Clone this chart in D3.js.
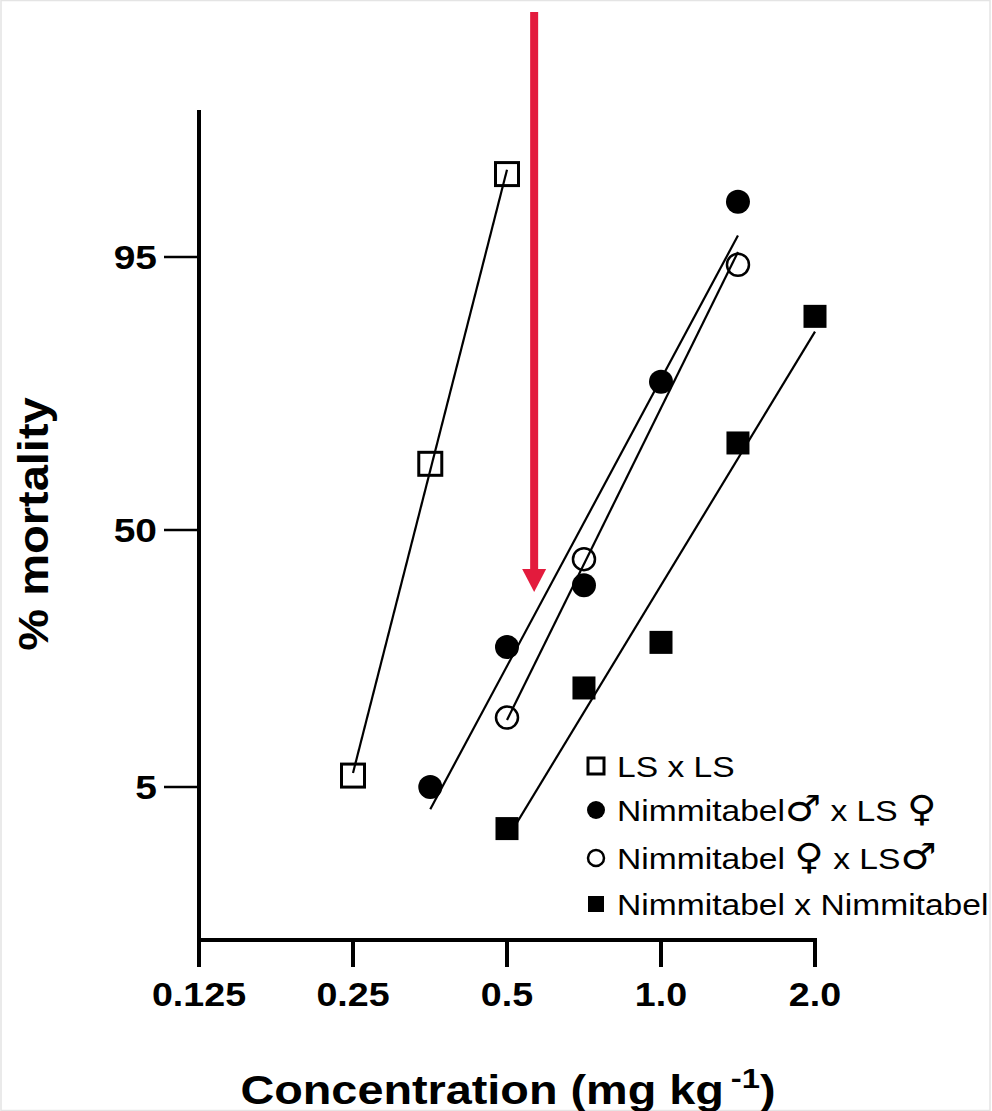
<!DOCTYPE html>
<html>
<head>
<meta charset="utf-8">
<script src="https://d3js.org/d3.v7.min.js"></script>
<style>
body { margin: 0; background: white; }
svg text { font-family: 'Liberation Sans', Arial, sans-serif; fill: black; }
</style>
</head>
<body>
<svg id="chart" width="992" height="1111"></svg>
<script>
// x axis: concentration (mg/kg) on a log2 scale
const concTicks = [0.125, 0.25, 0.5, 1.0, 2.0]
const concTickLabels = ['0.125', '0.25', '0.5', '1.0', '2.0']
// y axis: % mortality on a probit scale
const mortTicks = [5, 50, 95]
const mortTickLabels = ['5', '50', '95']

const seriesNames = ['LS x LS', 'Nimmitabel♂ x LS ♀', 'Nimmitabel ♀ x LS♂', 'Nimmitabel x Nimmitabel']
const seriesShapes = ['openSquare', 'filledCircle', 'openCircle', 'filledSquare']

// observed points
const lsConc = [0.25, 0.354, 0.5]
const lsMort = [5.8, 65.5, 98.4]
const nmLsConc = [0.354, 0.5, 0.707, 1.0, 1.414]
const nmLsMort = [5.0, 22.7, 36.2, 81.4, 97.6]
const nfLsConc = [0.5, 0.707, 1.414]
const nfLsMort = [11.5, 42.6, 94.5]
const nnConc = [0.5, 0.707, 1.0, 1.414, 2.0]
const nnMort = [2.8, 15.6, 23.6, 70.0, 90.1]

// fitted probit lines (end points)
const lsFitConc = [0.25, 0.5]
const lsFitMort = [6.0, 98.5]
const nmLsFitConc = [0.354, 1.414]
const nmLsFitMort = [3.7, 96.2]
const nfLsFitConc = [0.5, 1.414]
const nfLsFitMort = [11.2, 95.3]
const nnFitConc = [0.5, 2.0]
const nnFitMort = [2.4, 88.4]

// red arrow marks this concentration
const arrowConc = 0.565
const arrowTipMort = 34.6

const seriesConc = [lsConc, nmLsConc, nfLsConc, nnConc]
const seriesMort = [lsMort, nmLsMort, nfLsMort, nnMort]
const fitConc = [lsFitConc, nmLsFitConc, nfLsFitConc, nnFitConc]
const fitMort = [lsFitMort, nmLsFitMort, nfLsFitMort, nnFitMort]

// inverse normal cdf (Acklam)
function probit(p) {
  const a = [-3.969683028665376e+01, 2.209460984245205e+02, -2.759285104469687e+02, 1.383577518672690e+02, -3.066479806614716e+01, 2.506628277459239e+00]
  const b = [-5.447609879822406e+01, 1.615858368580409e+02, -1.556989798598866e+02, 6.680131188771972e+01, -1.328068155288572e+01]
  const c = [-7.784894002430293e-03, -3.223964580411365e-01, -2.400758277161838e+00, -2.549732539343734e+00, 4.374664141464968e+00, 2.938163982698783e+00]
  const d = [7.784695709041462e-03, 3.224671290700398e-01, 2.445134137142996e+00, 3.754408661907416e+00]
  const pl = 0.02425
  let q, r
  if (p < pl) {
    q = Math.sqrt(-2 * Math.log(p))
    return (((((c[0]*q+c[1])*q+c[2])*q+c[3])*q+c[4])*q+c[5]) / ((((d[0]*q+d[1])*q+d[2])*q+d[3])*q+1)
  } else if (p <= 1 - pl) {
    q = p - 0.5; r = q * q
    return (((((a[0]*r+a[1])*r+a[2])*r+a[3])*r+a[4])*r+a[5])*q / (((((b[0]*r+b[1])*r+b[2])*r+b[3])*r+b[4])*r+1)
  }
  q = Math.sqrt(-2 * Math.log(1 - p))
  return -(((((c[0]*q+c[1])*q+c[2])*q+c[3])*q+c[4])*q+c[5]) / ((((d[0]*q+d[1])*q+d[2])*q+d[3])*q+1)
}

const svg = d3.select('#chart')
const plotLeft = 199, plotRight = 815, plotTop = 110, plotBottom = 940

const x = d3.scaleLog().base(2).domain([0.125, 2]).range([plotLeft, plotRight])
const yProbit = d3.scaleLinear().domain([probit(0.05), 0, probit(0.95)]).range([787, 530, 257])
const y = m => yProbit(probit(m / 100))

// text stretched horizontally to match the wide original lettering
function wideText(px, py, str, size, sx, anchor, weight, rot) {
  const g = svg.append('g')
    .attr('transform', `translate(${px},${py})` + (rot ? ` rotate(${rot})` : '') + ` scale(${sx},1)`)
  return g.append('text')
    .attr('text-anchor', anchor)
    .style('font-size', size + 'px')
    .style('font-weight', weight)
    .text(str)
}

// light frame
svg.append('rect').attr('x', 1).attr('y', 0.5).attr('width', 989).attr('height', 1110)
  .attr('fill', 'none').attr('stroke', '#e4e4e4').attr('stroke-width', 1.5)

// axes
svg.append('line').attr('x1', plotLeft).attr('x2', plotLeft).attr('y1', plotTop).attr('y2', plotBottom + 2)
  .attr('stroke', 'black').attr('stroke-width', 4)
svg.append('line').attr('x1', plotLeft - 2).attr('x2', plotRight + 2).attr('y1', plotBottom).attr('y2', plotBottom)
  .attr('stroke', 'black').attr('stroke-width', 4)

concTicks.forEach((c, i) => {
  svg.append('line').attr('x1', x(c)).attr('x2', x(c)).attr('y1', plotBottom).attr('y2', plotBottom + 27)
    .attr('stroke', 'black').attr('stroke-width', 4)
  wideText(x(c), 1006, concTickLabels[i], 33, 1.14, 'middle', 'bold')
})
mortTicks.forEach((m, i) => {
  svg.append('line').attr('x1', plotLeft - 35).attr('x2', plotLeft).attr('y1', y(m)).attr('y2', y(m))
    .attr('stroke', 'black').attr('stroke-width', 2.5)
  wideText(157, y(m) + 12, mortTickLabels[i], 33, 1.18, 'end', 'bold')
})

// axis titles
const xt = wideText(508, 1104, 'Concentration (mg kg', 40, 1.17, 'middle', 'bold')
xt.append('tspan').attr('dx', 6).attr('dy', -16).style('font-size', '28px').text('-1')
xt.append('tspan').attr('dy', 16).text(')')
wideText(48, 524, '% mortality', 42, 1.12, 'middle', 'bold', -90)

// fitted lines
fitConc.forEach((fc, i) => {
  svg.append('line')
    .attr('x1', x(fc[0])).attr('y1', y(fitMort[i][0]))
    .attr('x2', x(fc[1])).attr('y2', y(fitMort[i][1]))
    .attr('stroke', 'black').attr('stroke-width', 2.2)
})

function drawMarker(g, shape, cx, cy, s) {
  if (shape === 'openSquare' || shape === 'filledSquare') {
    const open = shape === 'openSquare'
    g.append('rect').attr('x', cx - s).attr('y', cy - s).attr('width', 2 * s).attr('height', 2 * s)
      .attr('fill', open ? 'none' : 'black').attr('stroke', 'black').attr('stroke-width', open ? 3 : 0)
  } else {
    const open = shape === 'openCircle'
    g.append('circle').attr('cx', cx).attr('cy', cy).attr('r', open ? s - 1 : s)
      .attr('fill', open ? 'none' : 'black').attr('stroke', 'black').attr('stroke-width', open ? 2.5 : 0)
  }
}

const pts = svg.append('g')
seriesConc.forEach((sc, i) => {
  sc.forEach((c, j) => drawMarker(pts, seriesShapes[i], x(c), y(seriesMort[i][j]), seriesShapes[i].includes('Square') ? 11.5 : 12))
})

// red arrow
const ax = x(arrowConc), tipY = y(arrowTipMort)
svg.append('rect').attr('x', ax - 4).attr('y', 12).attr('width', 8).attr('height', tipY - 12 - 20)
  .attr('fill', '#e31b3d')
svg.append('path').attr('d', `M${ax - 12},${tipY - 23}L${ax + 12},${tipY - 23}L${ax},${tipY}Z`)
  .attr('fill', '#e31b3d')

// legend
const legendRows = [766, 810, 858, 904]
const lg = svg.append('g')
seriesNames.forEach((name, i) => {
  drawMarker(lg, seriesShapes[i], 596, legendRows[i], seriesShapes[i].includes('Square') ? 8 : 9)
  const t = wideText(617, legendRows[i] + 11, '', 30, 1.12, 'start', 'normal')
  name.split(/([♂♀])/).forEach(part => {
    if (!part) return
    const sp = t.append('tspan').text(part)
    if (part === '♂' || part === '♀') sp.style('font-family', "'DejaVu Sans'").style('font-size', '36px')
  })
})
</script>
</body>
</html>
